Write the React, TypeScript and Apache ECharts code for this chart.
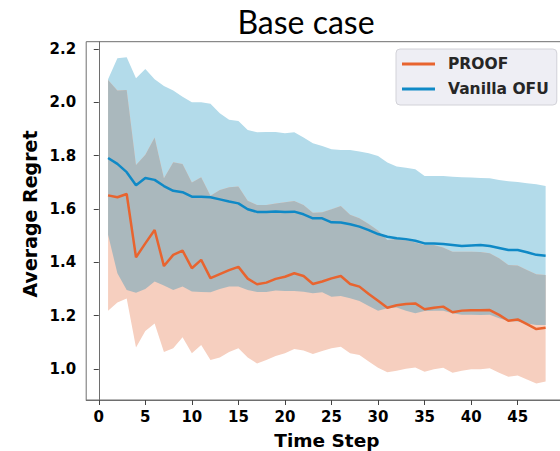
import React, { useEffect, useRef } from "react";
import * as echarts from "echarts";

// Time steps on the x axis
const steps = [
  1, 2, 3, 4, 5, 6, 7, 8, 9, 10, 11, 12, 13, 14, 15, 16, 17, 18, 19, 20, 21, 22, 23, 24,
  25, 26, 27, 28, 29, 30, 31, 32, 33, 34, 35, 36, 37, 38, 39, 40, 41, 42, 43, 44, 45, 46, 47, 48,
];

// PROOF: mean regret and its band
const proofMean = [
  1.651, 1.644, 1.656, 1.419, 1.471, 1.521, 1.386, 1.428, 1.444, 1.378, 1.409, 1.341,
  1.356, 1.371, 1.383, 1.339, 1.318, 1.324, 1.338, 1.346, 1.359, 1.349, 1.319, 1.328,
  1.34, 1.349, 1.319, 1.309, 1.281, 1.256, 1.23, 1.239, 1.244, 1.246, 1.224, 1.23,
  1.234, 1.213, 1.219, 1.22, 1.22, 1.221, 1.203, 1.181, 1.186, 1.168, 1.15, 1.155,
];
const proofUpper = [
  2.083, 2.044, 2.046, 1.765, 1.803, 1.868, 1.715, 1.775, 1.769, 1.699, 1.719, 1.65,
  1.671, 1.681, 1.684, 1.631, 1.615, 1.615, 1.621, 1.625, 1.63, 1.615, 1.586, 1.588,
  1.599, 1.611, 1.578, 1.565, 1.544, 1.519, 1.484, 1.488, 1.485, 1.474, 1.465, 1.465,
  1.456, 1.44, 1.44, 1.44, 1.439, 1.434, 1.415, 1.39, 1.388, 1.371, 1.355, 1.353,
];
const proofLower = [
  1.219, 1.249, 1.264, 1.081, 1.143, 1.171, 1.064, 1.078, 1.119, 1.059, 1.09, 1.034,
  1.043, 1.064, 1.078, 1.043, 1.021, 1.034, 1.049, 1.059, 1.075, 1.07, 1.056, 1.068,
  1.078, 1.084, 1.059, 1.053, 1.028, 1.005, 0.988, 0.994, 1.001, 1.006, 0.99, 0.999,
  1.005, 0.986, 0.994, 0.999, 0.999, 1.003, 0.986, 0.971, 0.976, 0.961, 0.946, 0.953,
];

// Vanilla OFU: mean regret and its band
const ofuMean = [
  1.791, 1.769, 1.738, 1.689, 1.716, 1.709, 1.686, 1.668, 1.663, 1.646, 1.646, 1.644,
  1.636, 1.628, 1.621, 1.599, 1.589, 1.589, 1.591, 1.589, 1.59, 1.58, 1.565, 1.565,
  1.55, 1.549, 1.543, 1.534, 1.521, 1.506, 1.496, 1.49, 1.487, 1.481, 1.471, 1.471,
  1.469, 1.465, 1.461, 1.463, 1.465, 1.461, 1.454, 1.446, 1.446, 1.438, 1.428, 1.425,
];
const ofuUpper = [
  2.086, 2.165, 2.169, 2.09, 2.125, 2.086, 2.061, 2.044, 2.021, 2.0, 2.0, 1.994,
  1.959, 1.934, 1.93, 1.896, 1.888, 1.889, 1.889, 1.884, 1.888, 1.868, 1.846, 1.836,
  1.824, 1.821, 1.821, 1.815, 1.809, 1.799, 1.774, 1.759, 1.755, 1.749, 1.724, 1.724,
  1.724, 1.721, 1.719, 1.718, 1.716, 1.715, 1.709, 1.704, 1.701, 1.696, 1.693, 1.686,
];
const ofuLower = [
  1.503, 1.359, 1.296, 1.286, 1.3, 1.328, 1.313, 1.296, 1.309, 1.291, 1.289, 1.288,
  1.3, 1.309, 1.309, 1.296, 1.289, 1.289, 1.294, 1.293, 1.293, 1.29, 1.284, 1.288,
  1.271, 1.274, 1.265, 1.255, 1.236, 1.219, 1.228, 1.231, 1.219, 1.209, 1.218, 1.219,
  1.219, 1.209, 1.204, 1.204, 1.203, 1.204, 1.19, 1.18, 1.178, 1.171, 1.165, 1.165,
];

const xTicks = [0, 5, 10, 15, 20, 25, 30, 35, 40, 45];
const yTicks = [1.0, 1.2, 1.4, 1.6, 1.8, 2.0, 2.2];

const ORANGE = "#e8642f";
const BLUE = "#0f89c6";
const ORANGE_BAND = "#f6cfbf";
const BLUE_BAND = "#b3dbea";
const OVERLAP_BAND = "#aab8bd";
const FONT = "DejaVu Sans";

// A filled band between two curves, drawn as one polygon through the axis scales.
function band(id: string, lower: number[], upper: number[], color: string, z: number) {
  return {
    id,
    type: "custom",
    coordinateSystem: "cartesian2d",
    silent: true,
    z,
    data: [[steps[0], lower[0]]],
    renderItem: (_params: any, api: any) => {
      const top = steps.map((s, i) => api.coord([s, upper[i]]));
      const bottom = steps.map((s, i) => api.coord([s, lower[i]])).reverse();
      return {
        type: "polygon",
        shape: { points: top.concat(bottom) },
        style: { fill: color, stroke: "none" },
      };
    },
  };
}

export default function App() {
  const ref = useRef<HTMLDivElement>(null);

  useEffect(() => {
    if (!ref.current) return;
    const chart = echarts.init(ref.current, undefined, { renderer: "svg" });

    const overlapLower = steps.map((_, i) => Math.max(proofLower[i], ofuLower[i]));
    const overlapUpper = steps.map((_, i) => Math.min(proofUpper[i], ofuUpper[i]));

    chart.setOption({
      animation: false,
      backgroundColor: "#ffffff",
      grid: {
        left: 86.2,
        right: -7.5,
        top: 41.7,
        bottom: 51,
        outerBoundsMode: "none",
        containLabel: false,
        show: true,
        borderColor: "#6e6e6e",
        borderWidth: 1,
        backgroundColor: "transparent",
      },
      graphic: [
        {
          type: "text",
          x: 306,
          y: 21,
          style: {
            text: "Base case",
            fontFamily: "Lato",
            fontSize: 32,
            fill: "#000",
            textAlign: "center",
            textVerticalAlign: "middle",
          },
        },
        {
          type: "text",
          x: 30,
          y: 214,
          rotation: Math.PI / 2,
          style: {
            text: "Average Regret",
            fontFamily: FONT,
            fontWeight: "bold",
            fontSize: 19,
            fill: "#000",
            textAlign: "center",
            textVerticalAlign: "middle",
          },
        },
      ],
      legend: {
        orient: "vertical",
        left: 396,
        top: 49,
        data: ["PROOF", "Vanilla OFU"],
        icon: "rect",
        itemWidth: 33,
        itemHeight: 3,
        itemGap: 7,
        padding: [6, 8, 7, 6],
        backgroundColor: "#eeeef4",
        borderColor: "#d2d2d8",
        borderWidth: 1,
        borderRadius: 4,
        textStyle: {
          fontFamily: FONT,
          fontWeight: "bold",
          fontSize: 15.5,
          color: "#262626",
          lineHeight: 18,
          padding: [0, 0, 0, 8],
        },
      },
      xAxis: {
        type: "value",
        min: -1.35,
        max: 50.35,
        name: "Time Step",
        nameLocation: "middle",
        nameGap: 31,
        nameTextStyle: { fontFamily: FONT, fontWeight: "bold", fontSize: 18.5, color: "#000" },
        axisLine: { show: true, lineStyle: { color: "#6e6e6e", width: 1 } },
        axisTick: { show: true, length: 5, customValues: xTicks, lineStyle: { color: "#444" } },
        axisLabel: {
          customValues: xTicks,
          fontFamily: FONT,
          fontWeight: "bold",
          fontSize: 15,
          color: "#000",
          margin: 9,
        },
        splitLine: { show: false },
      },
      yAxis: {
        type: "value",
        min: 0.884,
        max: 2.227,
        axisLine: { show: true, lineStyle: { color: "#6e6e6e", width: 1 } },
        axisTick: { show: true, length: 5, customValues: yTicks, lineStyle: { color: "#444" } },
        axisLabel: {
          customValues: yTicks,
          formatter: (v: number) => v.toFixed(1),
          fontFamily: FONT,
          fontWeight: "bold",
          fontSize: 15,
          color: "#000",
          margin: 10,
        },
        splitLine: { show: false },
      },
      series: [
        band("ofuBand", ofuLower, ofuUpper, BLUE_BAND, 1),
        band("proofBand", proofLower, proofUpper, ORANGE_BAND, 2),
        band("overlapBand", overlapLower, overlapUpper, OVERLAP_BAND, 3),
        {
          name: "PROOF",
          type: "line",
          data: steps.map((s, i) => [s, proofMean[i]]),
          symbol: "none",
          color: ORANGE,
          lineStyle: { color: ORANGE, width: 2.5 },
          z: 5,
        },
        {
          name: "Vanilla OFU",
          type: "line",
          data: steps.map((s, i) => [s, ofuMean[i]]),
          symbol: "none",
          color: BLUE,
          lineStyle: { color: BLUE, width: 2.5 },
          z: 5,
        },
      ],
    });

    return () => chart.dispose();
  }, []);

  return (
    <div
      ref={ref}
      style={{ position: "fixed", left: 0, top: 0, width: 560, height: 451, background: "#fff" }}
    />
  );
}
